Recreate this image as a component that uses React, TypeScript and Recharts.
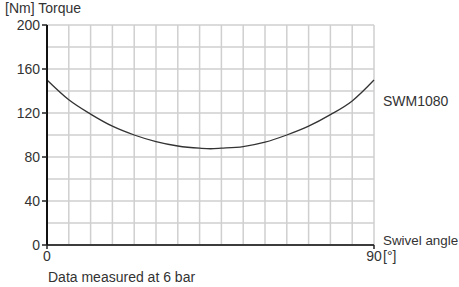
import React from "react";
import { LineChart, Line, XAxis, YAxis, CartesianGrid, ReferenceLine } from "recharts";

const angles = [0, 6, 12, 18, 24, 30, 36, 42, 45, 48, 54, 60, 66, 72, 78, 84, 90];
const torque = [150, 132, 119, 108, 100, 94, 90, 88, 87.5, 88, 89.5, 93.5, 100, 108, 118.5, 131, 150];
const yTicks = [0, 40, 80, 120, 160, 200];
const xTicks = [0, 90];
const yGrid = [0, 20, 40, 60, 80, 100, 120, 140, 160, 180, 200];
const yMinorGrid = [20, 60, 100, 140, 180];
const xGrid = [0, 6, 12, 18, 24, 30, 36, 42, 48, 54, 60, 66, 72, 78, 84, 90];
const seriesName = "SWM1080";
const yTitle = "[Nm] Torque";
const xTitle = "Swivel angle";
const xUnit = "[°]";
const note = "Data measured at 6 bar";

const data = angles.map((a, i) => ({ angle: a, torque: torque[i] }));

const FONT = "'Liberation Sans', Arial, Helvetica, sans-serif";
const TXT = "#333";
const GRID = "#cfcfcf";

const XTick = (props: any) => {
  const { x, y, payload } = props;
  const isLast = payload.value === 90;
  return (
    <g>
      <text x={x} y={y} dy="0.71em" textAnchor="middle" fill={TXT} fontSize={14} fontFamily={FONT}>
        {payload.value}
      </text>
      {isLast && (
        <text x={x + 9} y={y} dy="0.71em" textAnchor="start" fill={TXT} fontSize={14} fontFamily={FONT}>
          {xUnit}
        </text>
      )}
    </g>
  );
};

export default function App() {
  const textStyle: React.CSSProperties = {
    position: "absolute",
    fontFamily: FONT,
    fontSize: 14,
    color: TXT,
    whiteSpace: "nowrap",
    lineHeight: "16px",
  };
  return (
    <div style={{ position: "absolute", left: 0, top: 0, width: 459, height: 287, background: "#fff" }}>
      <LineChart width={459} height={287} data={data} margin={{ top: 25, right: 85, bottom: 12, left: 0 }}>
        <CartesianGrid
          stroke={GRID}
          strokeWidth={1.5}
          horizontalValues={yGrid}
          verticalValues={xGrid}
        />
        {yMinorGrid.map((v) => (
          <ReferenceLine key={v} y={v} stroke={GRID} strokeWidth={1.5} ifOverflow="visible" />
        ))}
        <XAxis
          dataKey="angle"
          type="number"
          domain={[0, 90]}
          ticks={xTicks}
          tick={<XTick />}
          tickSize={4}
          tickMargin={2}
          height={30}
          axisLine={{ stroke: "#3c3c3c", strokeWidth: 2.2 }}
          tickLine={{ stroke: "#222", strokeWidth: 1.5 }}
        />
        <YAxis
          type="number"
          domain={[0, 200]}
          ticks={yTicks}
          width={47}
          tickSize={5}
          tickMargin={2}
          tick={{ fill: TXT, fontSize: 14, fontFamily: FONT }}
          axisLine={{ stroke: "#111", strokeWidth: 2 }}
          tickLine={{ stroke: "#222", strokeWidth: 1.5 }}
        />
        <Line
          type="monotone"
          dataKey="torque"
          stroke="#333"
          strokeWidth={1.3}
          dot={false}
          isAnimationActive={false}
        />
      </LineChart>
      <div style={{ ...textStyle, left: 5, top: 2, lineHeight: "12px" }}>{yTitle}</div>
      <div style={{ ...textStyle, left: 383, top: 93 }}>{seriesName}</div>
      <div style={{ ...textStyle, left: 383, top: 233, fontSize: 13.4 }}>{xTitle}</div>
      <div style={{ ...textStyle, left: 48, top: 269 }}>{note}</div>
    </div>
  );
}
